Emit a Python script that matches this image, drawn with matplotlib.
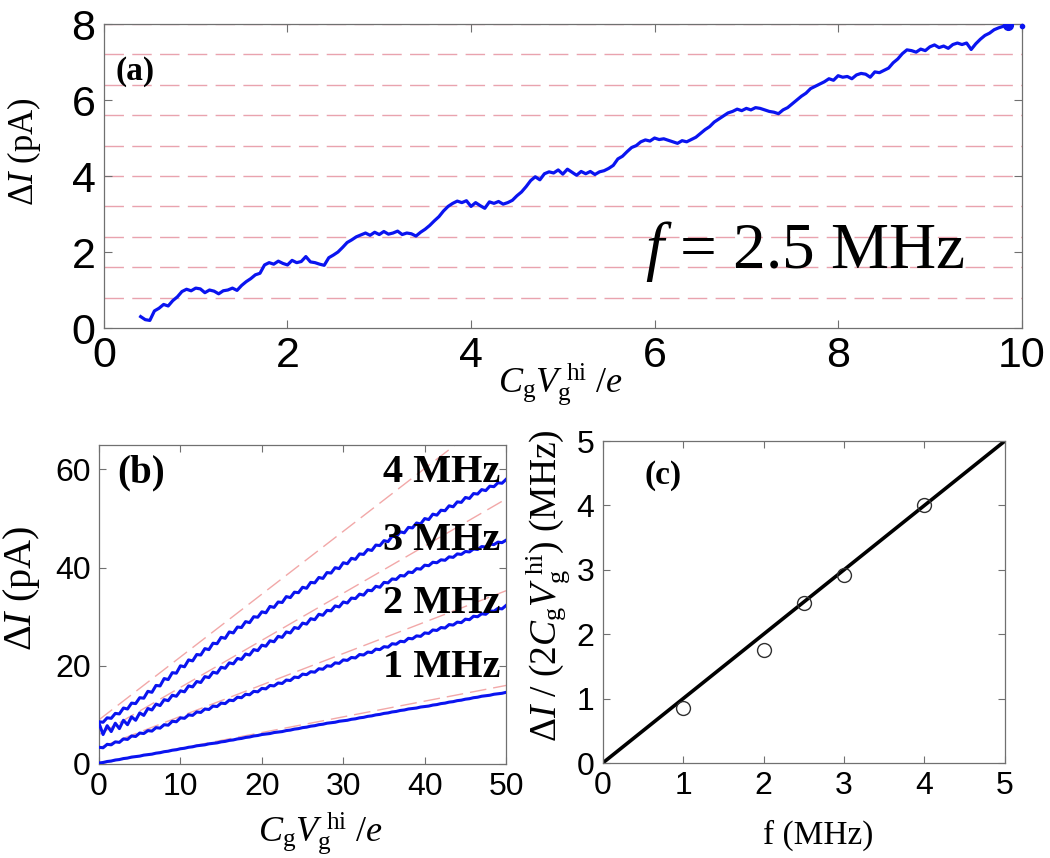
import numpy as np
import matplotlib
matplotlib.use("Agg")
import matplotlib.pyplot as plt

plt.rcParams['font.family'] = ['Liberation Sans', 'DejaVu Sans']
plt.rcParams['mathtext.fontset'] = 'custom'
plt.rcParams['mathtext.rm'] = 'Liberation Serif'
plt.rcParams['mathtext.it'] = 'Liberation Serif:italic'
plt.rcParams['mathtext.bf'] = 'Liberation Serif:bold'

# ---------------- data ----------------
# (a) staircase current at f = 2.5 MHz, sampled every 0.05 in CgVg/e from 0.40
stair_x0, stair_dx = 0.40, 0.05
stair_current = [
    0.30, 0.22, 0.20, 0.45, 0.52, 0.62, 0.58, 0.72, 0.82, 0.96,
    1.02, 0.98, 1.05, 1.03, 0.93, 1.00, 0.97, 0.90, 0.98, 1.00,
    1.05, 0.99, 1.12, 1.22, 1.30, 1.40, 1.44, 1.66, 1.72, 1.68,
    1.76, 1.70, 1.66, 1.78, 1.72, 1.75, 1.88, 1.74, 1.72, 1.68,
    1.65, 1.85, 1.92, 2.00, 2.12, 2.25, 2.32, 2.40, 2.45, 2.50,
    2.44, 2.52, 2.46, 2.54, 2.47, 2.50, 2.55, 2.46, 2.50, 2.48,
    2.42, 2.52, 2.60, 2.70, 2.82, 2.93, 3.08, 3.20, 3.28, 3.34,
    3.30, 3.35, 3.20, 3.30, 3.22, 3.15, 3.32, 3.28, 3.33, 3.26,
    3.30, 3.36, 3.48, 3.58, 3.72, 3.88, 3.98, 3.90, 4.06, 4.11,
    4.08, 4.16, 4.05, 4.18, 4.10, 4.02, 4.12, 4.06, 4.12, 4.04,
    4.11, 4.14, 4.20, 4.28, 4.45, 4.52, 4.64, 4.75, 4.80, 4.90,
    4.95, 4.92, 5.00, 4.96, 4.98, 4.94, 4.90, 4.86, 4.93, 4.90,
    4.96, 5.02, 5.12, 5.22, 5.30, 5.42, 5.50, 5.58, 5.66, 5.70,
    5.76, 5.72, 5.78, 5.74, 5.80, 5.78, 5.74, 5.70, 5.68, 5.64,
    5.74, 5.80, 5.90, 6.00, 6.10, 6.18, 6.30, 6.36, 6.42, 6.48,
    6.56, 6.52, 6.64, 6.60, 6.62, 6.56, 6.66, 6.70, 6.68, 6.60,
    6.74, 6.72, 6.78, 6.84, 6.98, 7.08, 7.22, 7.32, 7.30, 7.26,
    7.34, 7.30, 7.40, 7.45, 7.38, 7.42, 7.36, 7.46, 7.50, 7.46,
    7.50, 7.33, 7.48, 7.60, 7.70, 7.76, 7.85, 7.90, 7.94, 7.97,
]
end_point_x = [9.85, 10.0]
end_point_y = [7.97, 7.96]
# quantised levels 2ef for f = 2.5 MHz (pA)
level_step = 0.8
level_count = 10

# (b) current vs CgVg/e, sampled every 0.5 from 0 to 50
b_x0, b_dx = 0.0, 0.5
curve_4mhz = [
    8.6, 8.5, 9.4, 9.3, 10.3, 10.2, 11.4, 11.2, 12.4, 12.3,
    13.5, 13.4, 14.8, 14.6, 16.0, 15.9, 17.4, 17.2, 18.6, 18.5,
    20.0, 19.8, 21.2, 21.0, 22.3, 22.2, 23.5, 23.3, 24.6, 24.5,
    25.8, 25.6, 26.9, 26.7, 27.9, 27.8, 29.0, 28.8, 30.0, 29.9,
    31.0, 30.8, 32.1, 31.9, 33.0, 32.9, 34.1, 33.9, 35.0, 34.9,
    36.0, 35.8, 37.0, 36.9, 38.0, 37.8, 39.0, 38.9, 40.0, 39.8,
    41.0, 40.8, 41.9, 41.7, 42.8, 42.7, 43.7, 43.5, 44.6, 44.5,
    45.5, 45.3, 46.4, 46.3, 47.3, 47.1, 48.2, 48.1, 49.1, 48.9,
    50.0, 49.8, 50.9, 50.7, 51.7, 51.6, 52.6, 52.4, 53.4, 53.3,
    54.3, 54.1, 55.1, 55.0, 55.9, 55.7, 56.6, 56.5, 57.3, 57.2,
    58.0,
]
curve_3mhz = [
    8.3, 6.0, 7.8, 6.6, 8.3, 7.2, 8.9, 8.0, 9.6, 8.9,
    10.4, 9.9, 11.3, 11.0, 12.2, 11.9, 13.1, 12.9, 14.0, 13.8,
    14.9, 14.7, 15.9, 15.7, 16.8, 16.6, 17.8, 17.6, 18.7, 18.5,
    19.7, 19.5, 20.6, 20.4, 21.5, 21.3, 22.4, 22.2, 23.3, 23.1,
    24.2, 24.0, 25.1, 24.9, 26.0, 25.8, 26.9, 26.7, 27.8, 27.6,
    28.7, 28.5, 29.6, 29.4, 30.5, 30.3, 31.3, 31.2, 32.2, 32.0,
    33.0, 32.8, 33.8, 33.7, 34.6, 34.4, 35.4, 35.3, 36.2, 36.0,
    37.0, 36.9, 37.7, 37.6, 38.4, 38.3, 39.1, 39.0, 39.8, 39.7,
    40.5, 40.4, 41.1, 41.0, 41.6, 41.5, 42.2, 42.1, 42.8, 42.7,
    43.3, 43.2, 43.8, 43.7, 44.3, 44.2, 44.8, 44.7, 45.2, 45.1,
    45.6,
]
curve_2mhz = [
    3.4, 3.3, 4.0, 3.9, 4.5, 4.4, 5.1, 5.0, 5.7, 5.6,
    6.3, 6.2, 6.8, 6.7, 7.4, 7.3, 8.0, 7.9, 8.7, 8.6,
    9.4, 9.3, 10.0, 9.9, 10.6, 10.5, 11.2, 11.1, 11.8, 11.7,
    12.4, 12.3, 13.0, 12.9, 13.6, 13.5, 14.2, 14.1, 14.8, 14.7,
    15.4, 15.3, 16.0, 15.9, 16.5, 16.4, 17.1, 17.0, 17.7, 17.6,
    18.3, 18.2, 18.8, 18.7, 19.4, 19.3, 20.0, 19.9, 20.6, 20.5,
    21.2, 21.1, 21.7, 21.6, 22.3, 22.2, 22.8, 22.7, 23.4, 23.3,
    23.9, 23.8, 24.5, 24.4, 25.0, 24.9, 25.6, 25.5, 26.1, 26.0,
    26.7, 26.6, 27.3, 27.2, 27.8, 27.7, 28.4, 28.3, 28.9, 28.8,
    29.5, 29.4, 30.1, 30.0, 30.6, 30.5, 31.2, 31.1, 31.7, 31.6,
    32.3,
]
curve_1mhz = [
    0.2, 0.3, 0.5, 0.6, 0.8, 0.9, 1.1, 1.2, 1.4, 1.5,
    1.6, 1.8, 1.9, 2.0, 2.2, 2.3, 2.5, 2.6, 2.8, 2.9,
    3.1, 3.2, 3.4, 3.5, 3.7, 3.8, 3.9, 4.1, 4.2, 4.3,
    4.5, 4.6, 4.8, 4.9, 5.1, 5.2, 5.4, 5.5, 5.7, 5.8,
    6.0, 6.1, 6.2, 6.4, 6.5, 6.6, 6.8, 6.9, 7.1, 7.2,
    7.4, 7.5, 7.7, 7.8, 8.0, 8.1, 8.3, 8.4, 8.5, 8.7,
    8.8, 8.9, 9.1, 9.2, 9.4, 9.5, 9.7, 9.8, 10.0, 10.1,
    10.3, 10.4, 10.6, 10.7, 10.9, 11.0, 11.2, 11.3, 11.4, 11.6,
    11.7, 11.8, 12.0, 12.1, 12.3, 12.4, 12.6, 12.7, 12.9, 13.0,
    13.2, 13.3, 13.5, 13.6, 13.8, 13.9, 14.0, 14.2, 14.3, 14.4,
    14.6,
]
b_curves = [curve_4mhz, curve_3mhz, curve_2mhz, curve_1mhz]
b_names = ['4 MHz', '3 MHz', '2 MHz', '1 MHz']
b_name_y = [59.3, 45.6, 32.6, 19.6]
# ideal lines I = 2ef * n (plus offset), endpoints at x = 0 and x = 50
ideal_x = [0, 50]
ideal_lines = [[9.0, 73.0], [6.0, 54.0], [3.3, 35.3], [0.0, 16.0]]

# (c) extracted frequency vs applied frequency
c_freq = [1.0, 2.0, 2.5, 3.0, 4.0]
c_value = [0.85, 1.75, 2.48, 2.92, 4.0]
c_line_x = [0, 5]
c_line_y = [0, 5]

# ---------------- style ----------------
blue = '#0a14f0'
pink = '#e9a3ae'
salmon = '#f2a8a8'
spine_gray = '#707070'
serif = ['Liberation Serif', 'DejaVu Serif']


def style_axes(ax, tick_size, ticklen=5):
    for s in ax.spines.values():
        s.set_color(spine_gray)
        s.set_linewidth(0.9)
    ax.tick_params(direction='in', top=True, right=True, length=ticklen,
                   width=0.8, color=spine_gray, labelsize=tick_size,
                   labelcolor='black', pad=6)


fig = plt.figure(figsize=(10.5, 8.58), dpi=100)

# ---------------- (a) ----------------
ax_a = fig.add_axes([0.099, 0.6177, 0.874, 0.3543])
for k in range(1, level_count + 1):
    ax_a.axhline(level_step * k, color=pink, lw=1.0, dashes=(14, 6), zorder=1)
sx = stair_x0 + stair_dx * np.arange(len(stair_current))
ax_a.plot(sx, stair_current, color=blue, lw=2.3, zorder=3)
ax_a.plot(end_point_x[:1], end_point_y[:1], 'o', color=blue, ms=7, zorder=4)
ax_a.plot(end_point_x[1:], end_point_y[1:], 'o', color=blue, ms=3, zorder=4,
          clip_on=False)
ax_a.set_xlim(0, 10)
ax_a.set_ylim(0, 8)
ax_a.set_xticks(range(0, 11, 2))
ax_a.set_yticks(range(0, 9, 2))
style_axes(ax_a, 31, ticklen=6)
ax_a.set_ylabel(r'$\Delta I$ (pA)', fontsize=25, family=serif)
ax_a.yaxis.set_label_coords(-0.066, 0.58)
ax_a.set_xlabel(r'$C_{\mathrm{g}}V_{\mathrm{g}}^{\ \mathrm{hi}}\ /e$', fontsize=26)
ax_a.xaxis.set_label_coords(0.497, -0.11)
ax_a.text(0.13, 6.75, '(a)', fontsize=24, fontweight='bold', family=serif,
          va='center', ha='left')
ax_a.text(5.9, 1.58, r'$f$ = 2.5 MHz', fontsize=47, family=serif,
          ha='left', va='baseline')

# ---------------- (b) ----------------
ax_b = fig.add_axes([0.0943, 0.1096, 0.3877, 0.3718])
for line in ideal_lines:
    ax_b.plot(ideal_x, line, color=salmon, lw=1.0, dashes=(12, 5), zorder=1)
bx = b_x0 + b_dx * np.arange(len(curve_4mhz))
for curve in b_curves:
    ax_b.plot(bx, curve, color=blue, lw=2.2, zorder=3,
              solid_joinstyle='round')
for name, ny in zip(b_names, b_name_y):
    ax_b.text(49.3, ny, name, fontsize=29, fontweight='bold', family=serif,
              ha='right', va='center', zorder=5)
ax_b.text(2.3, 59.3, '(b)', fontsize=28, fontweight='bold', family=serif,
          ha='left', va='center')
ax_b.set_xlim(0, 50)
ax_b.set_ylim(0, 65)
ax_b.set_xticks(range(0, 51, 10))
ax_b.set_yticks(range(0, 61, 20))
style_axes(ax_b, 23)
ax_b.set_ylabel(r'$\Delta I$ (pA)', fontsize=29, family=serif)
ax_b.yaxis.set_label_coords(-0.14, 0.55)
ax_b.set_xlabel(r'$C_{\mathrm{g}}V_{\mathrm{g}}^{\ \mathrm{hi}}\ /e$', fontsize=26)
ax_b.xaxis.set_label_coords(0.543, -0.145)

# ---------------- (c) ----------------
ax_c = fig.add_axes([0.574, 0.1107, 0.383, 0.3753])
ax_c.plot(c_line_x, c_line_y, color='black', lw=2.6, zorder=2)
ax_c.plot(c_freq, c_value, 'o', mfc='none', mec='#303030', mew=1.0, ms=10,
          zorder=3)
ax_c.text(0.52, 4.47, '(c)', fontsize=24, fontweight='bold', family=serif,
          ha='left', va='center')
ax_c.set_xlim(0, 5)
ax_c.set_ylim(0, 5)
ax_c.set_xticks(range(0, 6))
ax_c.set_yticks(range(0, 6))
style_axes(ax_c, 23)
ax_c.set_ylabel(r'$\Delta I\ /\ (2C_{\mathrm{g}}V_{\mathrm{g}}^{\ \mathrm{hi}})$ (MHz)',
                fontsize=27, family=serif)
ax_c.yaxis.set_label_coords(-0.077, 0.55)
ax_c.set_xlabel('f (MHz)', fontsize=24, family=serif)
ax_c.xaxis.set_label_coords(0.535, -0.177)

fig.savefig('out.png', dpi=100, facecolor='white')
